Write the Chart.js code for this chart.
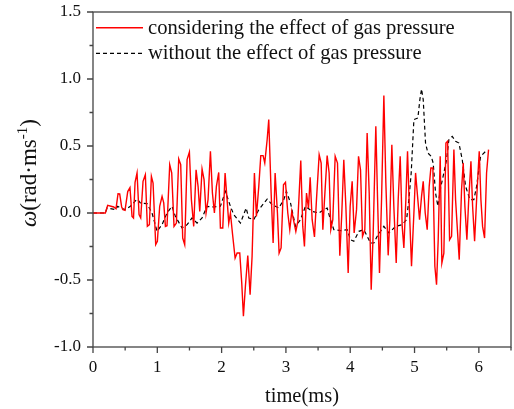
<!DOCTYPE html>
<html>
<head>
<meta charset="utf-8">
<script src="https://cdn.jsdelivr.net/npm/chart.js@4.4.0/dist/chart.umd.min.js"></script>
<style>
    body { margin: 0; background: #fff; }
    canvas { display: block; }
</style>
</head>
<body>
<canvas id="omegaChart" width="514" height="409"></canvas>
<script>
// values
const seriesNames = ['considering the effect of gas pressure', 'without the effect of gas pressure'];

const gasTime = [
    0, 0.192, 0.228, 0.322, 0.358, 0.389, 0.415, 0.446, 0.467, 0.498,
    0.54, 0.575, 0.607, 0.63, 0.654, 0.685, 0.716, 0.742, 0.778, 0.814,
    0.845, 0.877, 0.908, 0.934, 0.975, 1.001, 1.037, 1.074, 1.100, 1.126,
    1.151, 1.193, 1.224, 1.260, 1.297, 1.333, 1.364, 1.395, 1.426, 1.463,
    1.499, 1.530, 1.566, 1.603, 1.634, 1.660, 1.696, 1.727, 1.758, 1.789,
    1.826, 1.857, 1.888, 1.919, 1.955, 1.981, 2.018, 2.054, 2.085, 2.111,
    2.137, 2.168, 2.210, 2.241, 2.282, 2.313, 2.339, 2.370, 2.407, 2.443,
    2.474, 2.510, 2.541, 2.578, 2.609, 2.645, 2.671, 2.708, 2.733, 2.770,
    2.801, 2.832, 2.868, 2.894, 2.925, 2.962, 2.993, 3.029, 3.060, 3.091,
    3.117, 3.154, 3.185, 3.231, 3.262, 3.288, 3.320, 3.351, 3.377, 3.408,
    3.444, 3.475, 3.517, 3.548, 3.574, 3.600, 3.641, 3.672, 3.698, 3.729,
    3.766, 3.802, 3.838, 3.869, 3.900, 3.932, 3.968, 3.999, 4.030, 4.061,
    4.098, 4.129, 4.160, 4.191, 4.227, 4.263, 4.295, 4.326, 4.357, 4.398,
    4.424, 4.455, 4.487, 4.523, 4.554, 4.590, 4.616, 4.647, 4.678, 4.715,
    4.746, 4.777, 4.808, 4.834, 4.865, 4.891, 4.922, 4.953, 4.990, 5.016,
    5.047, 5.078, 5.109, 5.135, 5.166, 5.197, 5.228, 5.254, 5.285, 5.316,
    5.342, 5.368, 5.399, 5.425, 5.456, 5.488, 5.514, 5.545, 5.576, 5.612,
    5.638, 5.695, 5.731, 5.757, 5.783, 5.814, 5.840, 5.877, 5.903, 5.934,
    5.965, 6.006, 6.032, 6.058, 6.089, 6.120, 6.151
];
const gasOmega = [
    0, 0, 0.057, 0.045, 0.032, 0.144, 0.142, 0.045, 0.025, 0.02,
    0.16, 0.19, -0.025, -0.037, 0.229, 0.299, -0.012, -0.037, 0.236, 0.286,
    -0.10, -0.087, 0.274, 0.224, -0.236, -0.211, 0.05, 0.124, 0.075, -0.10,
    -0.095, 0.361, 0.299, -0.10, -0.075, 0.403, 0.361, -0.187, -0.236, 0.398,
    0.455, 0.10, -0.10, 0.323, 0.199, 0.012, 0.328, 0.249, 0, 0.10,
    0.46, 0.149, 0, 0.199, 0.303, -0.112, -0.112, 0.299, 0.10, -0.075,
    0, -0.149, -0.336, -0.299, -0.299, -0.522, -0.771, -0.547, -0.318, -0.609,
    -0.323, 0.299, -0.025, 0.199, 0.428, 0.428, 0.373, 0.547, 0.697, 0.149,
    -0.224, 0.299, 0, -0.299, -0.261, 0.211, 0.229, 0, -0.124, 0.012,
    -0.05, -0.137, -0.062, 0.391, -0.10, -0.249, 0.149, 0.037, 0.266, -0.05,
    -0.179, 0.10, 0.435, 0.373, -0.124, 0.10, 0.428, 0.299, -0.124, -0.05,
    0.423, 0.373, -0.318, 0, 0.398, 0.05, -0.448, 0.05, 0.236, -0.149,
    0.025, 0.423, 0.323, -0.174, -0.124, 0.597, 0.149, -0.572, -0.149, 0.647,
    0.124, -0.448, 0.10, 0.876, 0.224, -0.316, -0.05, 0.51, 0.05, -0.373,
    0.10, 0.423, -0.10, -0.261, 0.10, 0.46, 0, -0.398, 0, 0.299,
    0.124, -0.05, 0.124, 0.236, 0, -0.124, 0.199, 0.336, 0.336, -0.398,
    -0.535, -0.199, 0.423, -0.373, -0.299, 0.522, 0.535, -0.199, -0.174, 0.473,
    0.10, -0.348, 0.174, 0.373, 0.05, -0.199, 0.075, 0.386, 0.05, -0.211,
    0.10, 0.46, 0.10, -0.10, -0.187, 0.299, 0.473
];

const noGasTime = [
    0, 0.192, 0.218, 0.347, 0.384, 0.425, 0.503, 0.581, 0.685, 0.737,
    0.840, 0.918, 0.996, 1.074, 1.151, 1.229, 1.281, 1.385, 1.463, 1.540,
    1.618, 1.696, 1.774, 1.878, 1.981, 2.059, 2.137, 2.189, 2.293, 2.381,
    2.422, 2.500, 2.578, 2.708, 2.785, 2.889, 2.967, 3.008, 3.071, 3.149,
    3.226, 3.304, 3.408, 3.511, 3.589, 3.641, 3.693, 3.745, 3.849, 3.952,
    4.004, 4.056, 4.134, 4.212, 4.315, 4.367, 4.419, 4.523, 4.601, 4.705,
    4.808, 4.876, 4.912, 4.948, 4.990, 5.052, 5.083, 5.109, 5.135, 5.171,
    5.207, 5.259, 5.290, 5.327, 5.363, 5.405, 5.456, 5.498, 5.534, 5.586,
    5.638, 5.690, 5.742, 5.794, 5.861, 5.923, 5.965, 6.027, 6.105
];
const noGasOmega = [
    0, 0, 0.037, 0.025, 0.05, 0.037, 0.025, 0.05, 0.104, 0.075,
    0.07, 0, -0.137, -0.087, 0, 0.05, -0.025, -0.112, -0.087, -0.037,
    -0.075, -0.037, 0.05, 0.045, 0.05, 0.161, 0.05, -0.012, -0.075, 0.037,
    -0.037, -0.05, 0.025, 0.104, 0.062, 0.037, 0.10, 0.161, 0.075, -0.10,
    -0.05, 0.05, 0.012, 0, 0.025, 0.037, -0.05, -0.124, -0.132, -0.124,
    -0.199, -0.211, -0.137, -0.124, -0.224, -0.224, -0.174, -0.10, -0.149, -0.10,
    -0.087, -0.05, 0.10, 0.299, 0.697, 0.709, 0.846, 0.925, 0.846, 0.522,
    0.448, 0.423, 0.373, 0.149, 0.05, 0.187, 0.299, 0.398, 0.547, 0.572,
    0.535, 0.522, 0.398, 0.199, 0.10, 0.10, 0.199, 0.423, 0.46
];

const xMin = 0, xMax = 6.5, xStep = 0.5;
const yMin = -1.0, yMax = 1.5, yStep = 0.25;

const serif = "'Liberation Serif', 'Times New Roman', serif";
const axisColor = '#444';

function toPoints(xs, ys) {
    return xs.map((x, i) => ({ x: x, y: ys[i] }));
}

function isMultiple(v, step) {
    return Math.abs(v / step - Math.round(v / step)) < 1e-6;
}

function noScalePadding(scale) {
    scale.paddingTop = 0;
    scale.paddingBottom = 0;
    scale.paddingLeft = 0;
    scale.paddingRight = 0;
}

// box, outward ticks, axis titles and legend
const framePlugin = {
    id: 'frame',
    afterDraw(chart) {
        const ctx = chart.ctx;
        const area = chart.chartArea;
        const xs = chart.scales.x;
        const ys = chart.scales.y;
        ctx.save();
        ctx.strokeStyle = axisColor;
        ctx.lineWidth = 1.3;
        ctx.strokeRect(area.left, area.top, area.right - area.left, area.bottom - area.top);

        ctx.beginPath();
        ys.ticks.forEach(t => {
            const py = ys.getPixelForValue(t.value);
            const len = isMultiple(t.value, 0.5) ? 6 : 3.5;
            ctx.moveTo(area.left, py);
            ctx.lineTo(area.left - len, py);
        });
        xs.ticks.forEach(t => {
            const px = xs.getPixelForValue(t.value);
            const len = isMultiple(t.value, 1) ? 6 : 3.5;
            ctx.moveTo(px, area.bottom);
            ctx.lineTo(px, area.bottom + len);
        });
        ctx.stroke();

        // x title
        ctx.fillStyle = '#111';
        ctx.font = '20.5px ' + serif;
        ctx.textAlign = 'center';
        ctx.textBaseline = 'alphabetic';
        ctx.fillText('time(ms)', (area.left + area.right) / 2, 402);

        // y title with italic omega and superscript
        const parts = [
            { t: '\u03C9', f: 'italic 23px ' + serif, dy: 0 },
            { t: '(rad\u00B7ms', f: '23px ' + serif, dy: 0 },
            { t: '-1', f: '15px ' + serif, dy: -9 },
            { t: ')', f: '23px ' + serif, dy: 0 }
        ];
        let total = 0;
        parts.forEach(p => { ctx.font = p.f; p.w = ctx.measureText(p.t).width; total += p.w; });
        ctx.translate(36, 173);
        ctx.rotate(-Math.PI / 2);
        ctx.textAlign = 'left';
        let cx = -total / 2;
        parts.forEach(p => {
            ctx.font = p.f;
            ctx.fillText(p.t, cx, p.dy);
            cx += p.w;
        });
        ctx.setTransform(1, 0, 0, 1, 0, 0);

        // legend
        const rows = [27.7, 53.3];
        chart.data.datasets.forEach((ds, i) => {
            ctx.beginPath();
            ctx.strokeStyle = ds.borderColor;
            ctx.lineWidth = ds.borderWidth;
            ctx.setLineDash(ds.borderDash || []);
            ctx.moveTo(96, rows[i]);
            ctx.lineTo(143, rows[i]);
            ctx.stroke();
            ctx.setLineDash([]);
            ctx.font = '20.6px ' + serif;
            ctx.fillStyle = '#111';
            ctx.textAlign = 'left';
            ctx.fillText(ds.label, 148, rows[i] + 5.8);
        });
        ctx.restore();
    }
};

const ctx = document.getElementById('omegaChart').getContext('2d');
new Chart(ctx, {
    type: 'line',
    data: {
        datasets: [
            {
                label: seriesNames[0],
                data: toPoints(gasTime, gasOmega),
                borderColor: '#ff0000',
                borderWidth: 1.4,
                pointRadius: 0,
                tension: 0
            },
            {
                label: seriesNames[1],
                data: toPoints(noGasTime, noGasOmega),
                borderColor: '#000000',
                borderWidth: 1.2,
                borderDash: [4, 3],
                pointRadius: 0,
                tension: 0
            }
        ]
    },
    options: {
        responsive: false,
        animation: false,
        layout: { padding: { top: 12, right: 3, left: 0, bottom: 0 } },
        plugins: {
            legend: { display: false },
            tooltip: { enabled: false }
        },
        scales: {
            x: {
                type: 'linear',
                min: xMin,
                max: xMax,
                grid: { display: false, drawTicks: false },
                border: { display: false },
                ticks: {
                    stepSize: xStep,
                    autoSkip: false,
                    maxRotation: 0,
                    padding: 10,
                    color: '#111',
                    font: { family: serif, size: 17 },
                    callback: v => isMultiple(v, 1) ? String(Math.round(v)) : ''
                },
                afterFit: scale => { scale.height = 62; noScalePadding(scale); }
            },
            y: {
                min: yMin,
                max: yMax,
                grid: { display: false, drawTicks: false },
                border: { display: false },
                ticks: {
                    stepSize: yStep,
                    autoSkip: false,
                    padding: 12,
                    color: '#111',
                    font: { family: serif, size: 17 },
                    callback: v => isMultiple(v, 0.5) ? v.toFixed(1) : ''
                },
                afterFit: scale => { scale.width = 93; noScalePadding(scale); }
            }
        }
    },
    plugins: [framePlugin]
});
</script>
</body>
</html>
